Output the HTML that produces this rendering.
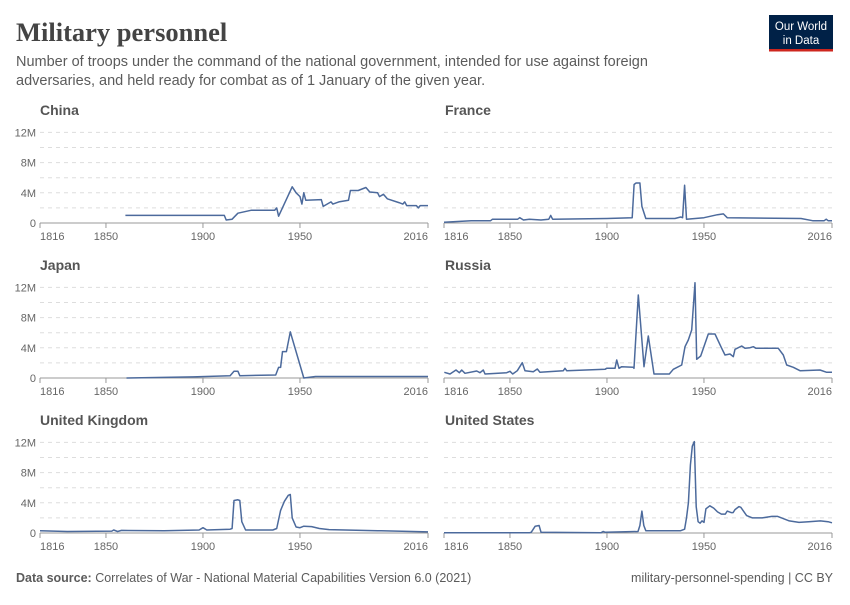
<!DOCTYPE html>
<html><head><meta charset="utf-8"><style>
body{margin:0;background:#fff;width:850px;height:600px;overflow:hidden;font-family:"Liberation Sans",sans-serif}
</style></head><body>
<svg width="850" height="600" xmlns="http://www.w3.org/2000/svg" id="s" font-family="Liberation Sans, sans-serif">
<text x="16" y="41" font-family="Liberation Serif, serif" font-weight="bold" font-size="26.5" fill="#444">Military personnel</text>
<text x="16" y="66" font-size="14.5" fill="#5b5b5b">Number of troops under the command of the national government, intended for use against foreign</text>
<text x="16" y="85" font-size="14.5" fill="#5b5b5b">adversaries, and held ready for combat as of 1 January of the given year.</text>
<rect x="769" y="15" width="64" height="36" fill="#002147"/>
<rect x="769" y="49" width="64" height="2.5" fill="#ce261e"/>
<text x="801" y="30" font-size="11.5" fill="#fff" text-anchor="middle">Our World</text>
<text x="801" y="44" font-size="11.5" fill="#fff" text-anchor="middle">in Data</text>
<text x="16" y="582" font-size="12.5" fill="#5b5b5b"><tspan font-weight="bold">Data source:</tspan> Correlates of War - National Material Capabilities Version 6.0 (2021)</text>
<text x="833" y="582" font-size="12.5" fill="#5b5b5b" text-anchor="end">military-personnel-spending | CC BY</text>
<g id="g"></g>
</svg>
<script>
const rz=[[43,367],[60,372],[78,360],[88,368],[95,360],[105,370],[140,363],[150,368],[160,360],[165,372],[230,368],[240,364],[248,372],[262,362],[277,338],[285,362],[310,365],[322,357],[330,367],[400,362],[405,355],[410,362],[525,358],[530,355],[555,355],[560,330],[567,355],[575,350],[610,352],[612,355],[625,135],[642,350],[655,258],[672,372],[718,372],[730,358],[755,345],[765,290],[775,270],[785,240],[795,98],[800,328],[812,318],[835,252],[855,252],[875,295],[885,315],[900,312],[910,320],[915,298],[935,288],[945,295],[960,293],[970,290],[978,295],[1045,295],[1060,315],[1070,345],[1090,352],[1110,362],[1170,360],[1190,367],[1207,367]];
const rus=rz.map(([X,Y])=>[1816+((430+X/3)-444)/1.94,(378-(250+Y/3))/7.55]);
const panels=[
{n:"China",x:40,b:223,lab:true,d:[[1860,1],[1911,1],[1912,0.4],[1915,0.5],[1918,1.3],[1925,1.7],[1937,1.7],[1938,2],[1939,0.9],[1946,4.8],[1948,4],[1950,3.5],[1951,2.5],[1952,4],[1953,3],[1961,3.1],[1962,2.2],[1966,2.8],[1967,2.5],[1970,2.8],[1975,3],[1976,4.3],[1980,4.3],[1984,4.7],[1986,4.1],[1990,4],[1991,3.5],[1993,3.8],[1995,3.2],[2001,2.7],[2003,2.5],[2004,2.8],[2005,2.3],[2010,2.3],[2011,2],[2012,2.3],[2016,2.3]]},
{n:"France",x:444,b:223,lab:false,d:[[1816,0.1],[1830,0.3],[1840,0.3],[1841,0.5],[1854,0.5],[1855,0.7],[1857,0.4],[1860,0.5],[1866,0.4],[1870,0.5],[1871,1],[1872,0.5],[1900,0.6],[1913,0.7],[1914,5.1],[1915,5.3],[1917,5.3],[1918,2.2],[1920,0.6],[1935,0.6],[1938,0.8],[1939,0.7],[1940,5],[1941,0.5],[1950,0.7],[1957,1.1],[1960,1.2],[1962,0.7],[2000,0.6],[2006,0.3],[2012,0.3],[2013,0.5],[2014,0.3],[2016,0.3]]},
{n:"Japan",x:40,b:378,lab:true,d:[[1860.6,0],[1895,0.15],[1914,0.3],[1916,0.9],[1918,0.9],[1919,0.3],[1937.5,0.4],[1939,1.4],[1940,1.4],[1941,3.5],[1943,3.5],[1945,6.1],[1952,0],[1958,0.2],[2016,0.2]]},
{n:"Russia",x:444,b:378,lab:false,d:rus},
{n:"United Kingdom",x:40,b:533,lab:true,d:[[1816,0.3],[1830,0.2],[1853,0.25],[1854,0.4],[1856,0.2],[1858,0.35],[1880,0.3],[1898,0.4],[1900,0.7],[1902,0.4],[1914,0.5],[1915,0.6],[1916,4.3],[1918,4.4],[1919,4.3],[1920,1.5],[1922,0.4],[1936,0.4],[1938,0.6],[1940,3],[1942,4.2],[1944,5],[1945,5.1],[1946,2],[1948,0.8],[1950,0.7],[1952,0.9],[1956,0.85],[1960,0.6],[1965,0.45],[1990,0.3],[2016,0.15]]},
{n:"United States",x:444,b:533,lab:false,d:[[1816,0.02],[1860,0.03],[1861,0.1],[1863,0.9],[1865,1],[1866,0.1],[1897,0.04],[1898,0.2],[1899,0.1],[1916,0.2],[1917,1],[1918,2.9],[1919,1],[1920,0.3],[1938,0.3],[1940,0.5],[1941,2],[1942,4],[1943,9],[1944,11.5],[1945,12.1],[1946,3.5],[1947,1.5],[1948,1.3],[1949,1.6],[1950,1.4],[1951,3.2],[1953,3.6],[1955,3.3],[1957,2.8],[1959,2.5],[1961,2.5],[1962,2.9],[1964,2.7],[1965,2.7],[1966,3.1],[1968,3.5],[1969,3.4],[1972,2.3],[1975,2],[1980,2],[1985,2.2],[1988,2.2],[1990,2],[1994,1.6],[1999,1.4],[2004,1.5],[2010,1.6],[2014,1.5],[2016,1.35]]}
];
const g=document.getElementById('g');let h='';
const sx=1.94,sy=7.55;
for(const p of panels){
 const b=p.b,x0=p.x,x1=x0+388;
 h+=`<text x="${p.lab?40:445}" y="${b-108}" font-size="14" font-weight="bold" fill="#555">${p.n}</text>`;
 for(let v=2;v<=12;v+=2){const y=b-v*sy;h+=`<line x1="${x0}" x2="${x1}" y1="${y}" y2="${y}" stroke="#ddd" stroke-dasharray="4,4"/>`;}
 if(p.lab){for(const v of [0,4,8,12]){h+=`<text x="${x0-4}" y="${b-v*sy+4}" font-size="11" fill="#666" text-anchor="end">${v?v+'M':'0'}</text>`;}}
 h+=`<line x1="${x0}" x2="${x1}" y1="${b}" y2="${b}" stroke="#999"/>`;
 for(const yr of [1816,1850,1900,1950,2016]){const x=x0+(yr-1816)*sx;h+=`<line x1="${x}" x2="${x}" y1="${b}" y2="${b+5}" stroke="#999"/>`;
  const anc=yr==1816?'start':yr==2016?'end':'middle';h+=`<text x="${x}" y="${b+17}" font-size="11" fill="#666" text-anchor="${anc}">${yr}</text>`;}
 const pts=p.d.map(([yr,v])=>`${(x0+(Math.min(yr,2016)-1816)*sx).toFixed(1)},${(b-Math.max(v,0)*sy).toFixed(1)}`).join(' ');
 h+=`<polyline points="${pts}" fill="none" stroke="#4c6a9c" stroke-width="1.5" stroke-linejoin="round"/>`;
}
g.innerHTML=h;
</script>
</body></html>
